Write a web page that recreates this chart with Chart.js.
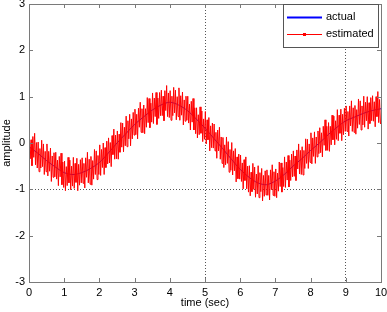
<!DOCTYPE html>
<html>
<head>
<meta charset="utf-8">
<script src="https://cdn.jsdelivr.net/npm/chart.js@4/dist/chart.umd.min.js"></script>
<style>
  html, body { margin: 0; padding: 0; background: #fff; }
  #wrap { width: 387px; height: 312px; position: relative; }
</style>
</head>
<body>
<div id="wrap"><canvas id="c"></canvas></div>
<script>
const actualTimes = [0, 0.25, 0.5, 0.75, 1, 1.25, 1.5, 1.75, 2, 2.25, 2.5, 2.75, 3, 3.25, 3.5, 3.75,
  4, 4.25, 4.5, 4.75, 5, 5.25, 5.5, 5.75, 6, 6.25, 6.5, 6.75, 7, 7.25, 7.5, 7.75,
  8, 8.25, 8.5, 8.75, 9, 9.25, 9.5, 9.75, 10];
const actualValues = [-0.08, -0.22, -0.38, -0.52, -0.64, -0.68, -0.64, -0.55, -0.42, -0.22, 0.0, 0.2,
  0.4, 0.56, 0.71, 0.82, 0.88, 0.82, 0.7, 0.52, 0.32, 0.1, -0.12, -0.35, -0.57, -0.74, -0.86, -0.9,
  -0.82, -0.68, -0.5, -0.34, -0.16, 0.0, 0.18, 0.34, 0.48, 0.56, 0.64, 0.7, 0.74];

// start-up transient of the estimator at t = 0
const spikeTimes = [0, 0.005];
const spikeValues = [2.4, -3.2];

// estimated signal, one sample every 0.025 s starting at 0.01 s
const estStart = 0.01;
const estStep = 0.025;
const estimatedValues = [
  0.23, -0.34, 0.07, -0.49, 0.14, -0.31, 0.21, -0.47, 0.01, -0.54,
  0.02, -0.62, -0.12, -0.54, 0.06, -0.51, -0.02, -0.68, -0.18, -0.62,
  -0.02, -0.71, -0.18, -0.61, -0.11, -0.83, -0.28, -0.74, -0.21, -0.73,
  -0.20, -0.78, -0.37, -0.92, -0.29, -0.73, -0.22, -0.90, -0.41, -0.96,
  -0.39, -1.03, -0.51, -0.92, -0.31, -0.86, -0.37, -1.01, -0.50, -0.93,
  -0.31, -0.98, -0.44, -0.85, -0.33, -1.03, -0.46, -0.91, -0.36, -0.86,
  -0.32, -0.87, -0.44, -0.97, -0.32, -0.74, -0.20, -0.86, -0.35, -0.89,
  -0.29, -0.91, -0.38, -0.78, -0.14, -0.68, -0.17, -0.79, -0.27, -0.68,
  -0.04, -0.70, -0.14, -0.53, 0.00, -0.68, -0.10, -0.53, 0.04, -0.45,
  0.11, -0.43, 0.01, -0.51, 0.16, -0.25, 0.30, -0.35, 0.17, -0.34,
  0.26, -0.35, 0.19, -0.20, 0.44, -0.09, 0.43, -0.19, 0.34, -0.06,
  0.58, -0.08, 0.48, 0.09, 0.62, -0.06, 0.52, 0.09, 0.66, 0.17,
  0.73, 0.18, 0.62, 0.09, 0.75, 0.34, 0.88, 0.23, 0.74, 0.22,
  0.82, 0.20, 0.74, 0.34, 0.98, 0.44, 0.96, 0.33, 0.86, 0.45,
  1.08, 0.42, 0.97, 0.57, 1.09, 0.40, 0.97, 0.53, 1.09, 0.59,
  1.14, 0.59, 1.01, 0.48, 1.13, 0.70, 1.24, 0.57, 1.08, 0.55,
  1.13, 0.49, 1.01, 0.59, 1.20, 0.65, 1.14, 0.50, 1.00, 0.57,
  1.19, 0.49, 1.02, 0.60, 1.10, 0.39, 0.93, 0.47, 1.01, 0.49,
  1.01, 0.43, 0.84, 0.28, 0.90, 0.45, 0.96, 0.28, 0.76, 0.20,
  0.76, 0.11, 0.61, 0.18, 0.78, 0.21, 0.69, 0.03, 0.52, 0.08,
  0.68, -0.02, 0.50, 0.07, 0.55, -0.17, 0.37, -0.10, 0.43, -0.11,
  0.41, -0.17, 0.23, -0.33, 0.28, -0.17, 0.34, -0.35, 0.13, -0.44,
  0.12, -0.53, -0.04, -0.47, 0.13, -0.44, 0.03, -0.63, -0.14, -0.59,
  0.01, -0.69, -0.17, -0.60, -0.12, -0.84, -0.30, -0.77, -0.24, -0.78,
  -0.26, -0.83, -0.43, -0.99, -0.36, -0.81, -0.30, -0.99, -0.50, -1.06,
  -0.49, -1.14, -0.63, -1.05, -0.44, -1.00, -0.52, -1.17, -0.67, -1.10,
  -0.49, -1.18, -0.64, -1.05, -0.55, -1.25, -0.70, -1.15, -0.60, -1.12,
  -0.58, -1.13, -0.70, -1.23, -0.58, -1.01, -0.47, -1.13, -0.62, -1.15,
  -0.56, -1.18, -0.65, -1.04, -0.41, -0.94, -0.43, -1.06, -0.53, -0.94,
  -0.30, -0.96, -0.41, -0.80, -0.27, -0.95, -0.37, -0.81, -0.24, -0.73,
  -0.17, -0.72, -0.28, -0.81, -0.15, -0.56, -0.02, -0.67, -0.16, -0.68,
  -0.08, -0.69, -0.16, -0.55, 0.09, -0.44, 0.08, -0.55, -0.02, -0.42,
  0.22, -0.45, 0.11, -0.29, 0.24, -0.44, 0.13, -0.30, 0.26, -0.23,
  0.33, -0.21, 0.22, -0.30, 0.36, -0.05, 0.50, -0.16, 0.36, -0.16,
  0.44, -0.18, 0.36, -0.04, 0.60, 0.07, 0.58, -0.04, 0.48, 0.08,
  0.72, 0.05, 0.60, 0.21, 0.73, 0.05, 0.62, 0.18, 0.75, 0.25,
  0.80, 0.25, 0.68, 0.15, 0.80, 0.37, 0.91, 0.25, 0.76, 0.23,
  0.81, 0.19, 0.72, 0.32, 0.95, 0.40, 0.91, 0.28, 0.80, 0.39,
  1.01, 0.34, 0.88, 0.48, 1.00, 0.30, 0.87, 0.42, 0.98, 0.48,
  1.02, 0.47, 0.89, 0.35, 1.00, 0.57, 1.11, 0.44, 0.94, 0.41
];

const xTicks = [0, 1, 2, 3, 4, 5, 6, 7, 8, 9, 10];
const yTicks = [-3, -2, -1, 0, 1, 2, 3];
const xGridAt = [5, 9];   // only these vertical grid lines are shown
const yGridAt = [-1];

const FONT = { family: "'Liberation Sans', Arial, sans-serif", size: 11 };
const FRAME = "#7a7a7a";

const actualPts = actualTimes.map((t, i) => ({ x: t, y: actualValues[i] }));
const estPts = spikeTimes.map((t, i) => ({ x: t, y: spikeValues[i] }))
  .concat(estimatedValues.map((v, i) => ({ x: +(estStart + i * estStep).toFixed(4), y: v })));

// MATLAB style box, inward ticks and legend
const matlabAxes = {
  id: "matlabAxes",
  afterDraw(chart) {
    const { ctx, chartArea: a, scales } = chart;
    ctx.save();
    ctx.strokeStyle = FRAME;
    ctx.lineWidth = 1;
    ctx.strokeRect(Math.round(a.left) + 0.5, Math.round(a.top) + 0.5,
      Math.round(a.right - a.left), Math.round(a.bottom - a.top));
    const len = 4;
    ctx.beginPath();
    xTicks.forEach((v) => {
      const px = Math.round(scales.x.getPixelForValue(v)) + 0.5;
      ctx.moveTo(px, a.bottom); ctx.lineTo(px, a.bottom - len);
      ctx.moveTo(px, a.top); ctx.lineTo(px, a.top + len);
    });
    yTicks.forEach((v) => {
      const py = Math.round(scales.y.getPixelForValue(v)) + 0.5;
      ctx.moveTo(a.left, py); ctx.lineTo(a.left + len, py);
      ctx.moveTo(a.right, py); ctx.lineTo(a.right - len, py);
    });
    ctx.stroke();

    // legend box
    const bx = 283.5, by = 4.5, bw = 95, bh = 43;
    ctx.fillStyle = "#fff";
    ctx.fillRect(bx, by, bw, bh);
    ctx.strokeStyle = "#555";
    ctx.strokeRect(bx, by, bw, bh);
    ctx.font = `${FONT.size}px ${FONT.family}`;
    ctx.textBaseline = "middle";
    const rows = [17, 34];
    chart.data.datasets.forEach((ds, i) => {
      const y = rows[i] + 0.5;
      ctx.strokeStyle = ds.borderColor;
      ctx.lineWidth = ds.legendWidth;
      ctx.beginPath();
      ctx.moveTo(287, y); ctx.lineTo(322, y);
      ctx.stroke();
      if (ds.legendDot) {
        ctx.fillStyle = ds.borderColor;
        ctx.fillRect(303, y - 1.5, 3, 3);
      }
      ctx.fillStyle = "#000";
      ctx.fillText(ds.label, 326, rows[i]);
    });
    ctx.restore();
  },
};

new Chart(document.getElementById("c"), {
  type: "line",
  data: {
    datasets: [
      {
        label: "actual",
        data: actualPts,
        borderColor: "#0000ff",
        borderWidth: 1,
        legendWidth: 2,
        pointRadius: 0,
        tension: 0.3,
        order: 1,
      },
      {
        label: "estimated",
        data: estPts,
        borderColor: "#ff0000",
        borderWidth: 1,
        legendWidth: 1,
        legendDot: true,
        pointRadius: 0,
        tension: 0,
        order: 0,
      },
    ],
  },
  options: {
    animation: false,
    responsive: true,
    maintainAspectRatio: false,
    parsing: false,
    layout: { padding: { top: 4, right: 6, left: 0, bottom: 0 } },
    plugins: { legend: { display: false }, tooltip: { enabled: false } },
    scales: {
      x: {
        type: "linear",
        min: 0,
        max: 10,
        afterFit: (s) => { s.height = 30; s.paddingLeft = 0; s.paddingRight = 0; },
        afterBuildTicks: (s) => { s.ticks = xTicks.map((v) => ({ value: v })); },
        ticks: { color: "#000", font: FONT, padding: 4, maxRotation: 0 },
        grid: {
          drawTicks: false,
          color: (c) => (c.tick && xGridAt.includes(c.tick.value) ? "#555" : "rgba(0,0,0,0)"),
        },
        border: { display: false, dash: [1, 2] },
        title: { display: true, text: "time (sec)", color: "#000", font: FONT, padding: { top: 0, bottom: 2 } },
      },
      y: {
        type: "linear",
        min: -3,
        max: 3,
        afterFit: (s) => { s.width = 29; s.paddingTop = 0; s.paddingBottom = 0; },
        afterBuildTicks: (s) => { s.ticks = yTicks.map((v) => ({ value: v })); },
        ticks: { color: "#000", font: FONT, padding: 4 },
        grid: {
          drawTicks: false,
          color: (c) => (c.tick && yGridAt.includes(c.tick.value) ? "#555" : "rgba(0,0,0,0)"),
        },
        border: { display: false, dash: [1, 2] },
        title: { display: true, text: "amplitude", color: "#000", font: FONT, padding: 0 },
      },
    },
  },
  plugins: [matlabAxes],
});
</script>
</body>
</html>
